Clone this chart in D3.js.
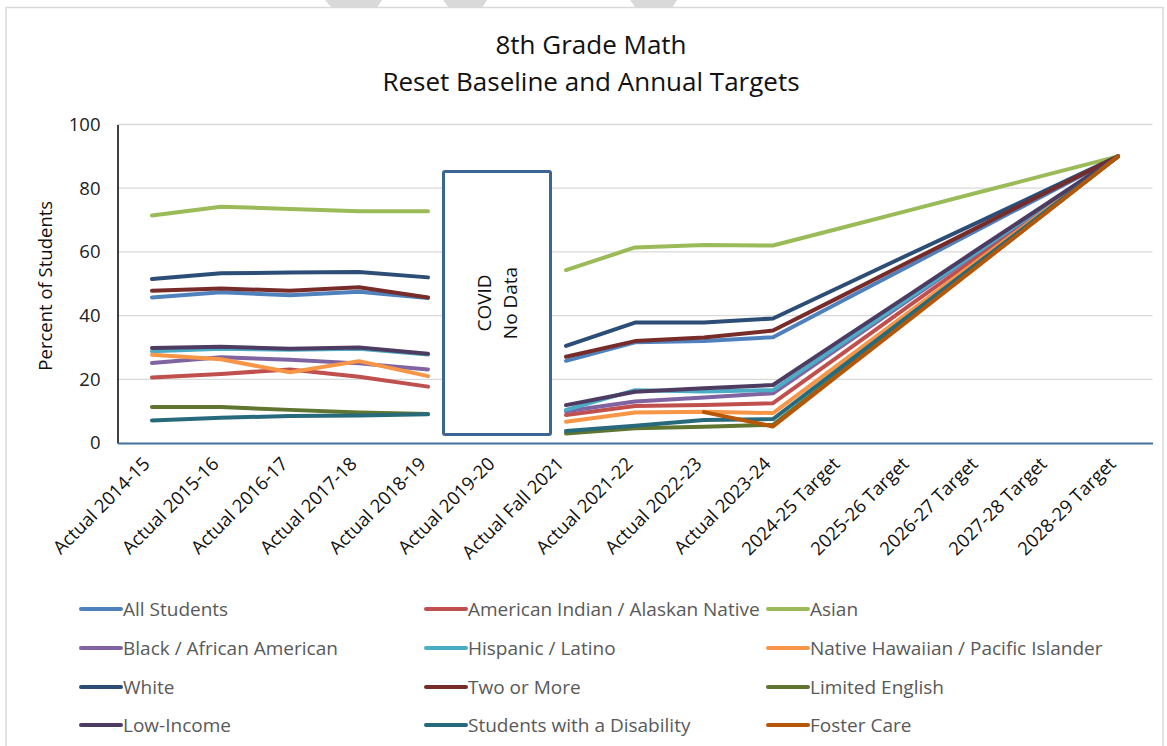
<!DOCTYPE html>
<html>
<head>
<meta charset="utf-8">
<script src="https://cdn.jsdelivr.net/npm/d3@7"></script>
<style>
  html, body { margin: 0; padding: 0; background: #fff; }
  svg { display: block; font-family: "Open Sans", "Noto Sans", sans-serif; }
</style>
</head>
<body>
<svg id="chart" width="1167" height="746"></svg>
<script>
// ---------- data ----------
const categories = ["Actual 2014-15","Actual 2015-16","Actual 2016-17","Actual 2017-18","Actual 2018-19","Actual 2019-20","Actual Fall 2021","Actual 2021-22","Actual 2022-23","Actual 2023-24","2024-25 Target","2025-26 Target","2026-27 Target","2027-28 Target","2028-29 Target"];
const yTicks = [0, 20, 40, 60, 80, 100];

const seriesNames = ["All Students","American Indian / Alaskan Native","Asian","Black / African American","Hispanic / Latino","Native Hawaiian / Pacific Islander","White","Two or More","Limited English","Low-Income","Students with a Disability","Foster Care"];
const seriesColors = ["#4F81BD","#C0504D","#9BBB59","#8064A2","#4BACC6","#F79646","#2C4D75","#772C2A","#5F7530","#4D3B62","#276A7C","#B65708"];

const allStudents     = [45.7, 47.3, 46.4, 47.5, 45.5, null, 25.8, 31.6, 32.0, 33.2, 44.6, 55.9, 67.3, 78.6, 90];
const americanIndian  = [20.6, 21.7, 23.1, 20.8, 17.7, null, 8.8, 11.6, 11.9, 12.5, 28.0, 43.5, 59.0, 74.5, 90];
const asian           = [71.4, 74.2, 73.5, 72.8, 72.8, null, 54.3, 61.4, 62.2, 62.0, 67.6, 73.2, 78.8, 84.4, 90];
const black           = [25.1, 26.9, 26.1, 25.0, 23.1, null, 10.0, 13.0, 14.3, 15.6, 30.5, 45.4, 60.3, 75.1, 90];
const hispanic        = [28.8, 29.6, 29.3, 29.6, 27.8, null, 10.4, 16.6, 16.2, 16.6, 31.3, 45.9, 60.6, 75.3, 90];
const nativeHawaiian  = [27.7, 26.3, 22.2, 25.7, 21.0, null, 6.7, 9.6, 9.8, 9.4, 25.5, 41.6, 57.8, 73.9, 90];
const white           = [51.5, 53.3, 53.5, 53.7, 52.0, null, 30.5, 37.8, 37.8, 39.1, 49.3, 59.5, 69.6, 79.8, 90];
const twoOrMore       = [47.8, 48.5, 47.8, 48.9, 45.7, null, 27.1, 32.0, 33.1, 35.3, 46.2, 57.2, 68.1, 79.1, 90];
const limitedEnglish  = [11.3, 11.3, 10.4, 9.6, 9.1, null, 3.0, 4.6, 5.1, 5.7, 22.6, 39.4, 56.3, 73.1, 90];
const lowIncome       = [29.8, 30.2, 29.6, 30.0, 28.0, null, 11.9, 16.1, 17.2, 18.2, 32.6, 46.9, 61.3, 75.6, 90];
const disability      = [7.1, 7.9, 8.5, 8.6, 9.0, null, 3.8, 5.4, 7.2, 7.5, 24.0, 40.5, 57.0, 73.5, 90];
const fosterCare      = [null, null, null, null, null, null, null, null, 9.7, 5.2, 22.2, 39.1, 56.1, 73.0, 90];

const seriesValues = [allStudents, americanIndian, asian, black, hispanic, nativeHawaiian, white, twoOrMore, limitedEnglish, lowIncome, disability, fosterCare];

const titleLines = ["8th Grade Math", "Reset Baseline and Annual Targets"];
const yAxisTitle = "Percent of Students";
const covidLines = ["COVID", "No Data"];
const covidCategory = "Actual 2019-20";

// ---------- drawing ----------
const svg = d3.select("#chart");

// watermark fragments and chart frame
const wm = [[325,382,332,377],[443,487,449,482],[630,677,636,672]];
svg.selectAll("path.wm").data(wm).join("path")
  .attr("d", d => `M${d[0]},0 L${d[1]},0 L${d[3]},8 L${d[2]},8 Z`)
  .attr("fill", "#d9d9d9");
svg.append("rect").attr("x", 6).attr("y", 7.5).attr("width", 1157).attr("height", 745)
  .attr("fill", "none").attr("stroke", "#d9d9d9").attr("stroke-width", 1.5);

const plot = { left: 117.5, right: 1152.5, top: 124.5, bottom: 443 };

const x = d3.scalePoint().domain(categories).range([plot.left, plot.right]).padding(0.5);
const y = d3.scaleLinear().domain([0, 100]).range([plot.bottom, plot.top]);

// gridlines
svg.append("g").selectAll("line").data(yTicks.filter(t => t > 0)).join("line")
  .attr("x1", plot.left).attr("x2", plot.right)
  .attr("y1", d => y(d)).attr("y2", d => y(d))
  .attr("stroke", "#d9d9d9").attr("stroke-width", 1.3);

// y axis
const yAxis = d3.axisLeft(y).tickValues(yTicks).tickSize(0).tickPadding(17);
const gy = svg.append("g").attr("transform", `translate(${plot.left},0)`).call(yAxis);
gy.select(".domain").attr("stroke", "#000").attr("stroke-width", 1.5);
gy.selectAll("text").attr("font-size", 18.5).attr("fill", "#222")
  .attr("font-family", "'Open Sans', sans-serif");

// x axis baseline
const xAxis = d3.axisBottom(x).tickSize(0).tickFormat("");
const gx = svg.append("g").attr("transform", `translate(0,${plot.bottom})`).call(xAxis);
gx.select(".domain").attr("stroke", "#41719C").attr("stroke-width", 2);

// x labels rotated
svg.append("g").selectAll("text").data(categories).join("text")
  .attr("transform", d => `translate(${x(d) - 1},${plot.bottom + 22}) rotate(-45)`)
  .attr("text-anchor", "end")
  .attr("font-size", 18.5)
  .attr("fill", "#111")
  .text(d => d);

// y axis title
svg.append("text")
  .attr("transform", `translate(52,${(plot.top + plot.bottom) / 2 + 2}) rotate(-90)`)
  .attr("text-anchor", "middle")
  .attr("font-size", 18.5)
  .attr("fill", "#111")
  .text(yAxisTitle);

// title
svg.append("g").selectAll("text").data(titleLines).join("text")
  .attr("x", 591).attr("y", (d, i) => 54 + i * 37)
  .attr("text-anchor", "middle")
  .attr("font-size", 26)
  .attr("fill", "#111")
  .text(d => d);

// lines
const line = d3.line()
  .defined(d => d.v !== null)
  .x(d => x(d.c))
  .y(d => y(d.v));

svg.append("g").selectAll("path").data(seriesValues.map((vals, i) => ({ i, pts: vals.map((v, j) => ({ c: categories[j], v })) })))
  .join("path")
  .attr("d", d => line(d.pts))
  .attr("fill", "none")
  .attr("stroke", d => seriesColors[d.i])
  .attr("stroke-width", 4)
  .attr("stroke-linecap", "round")
  .attr("stroke-linejoin", "round");

// COVID box
const cx = x(covidCategory);
svg.append("rect")
  .attr("x", cx - 53.5).attr("y", 171.5).attr("width", 107).attr("height", 263)
  .attr("rx", 1.5)
  .attr("fill", "#fff").attr("stroke", "#3E6494").attr("stroke-width", 3);
svg.append("g").attr("transform", `translate(${cx},303) rotate(-90)`)
  .selectAll("text").data(covidLines).join("text")
  .attr("x", 0).attr("y", (d, i) => -6 + i * 26)
  .attr("text-anchor", "middle")
  .attr("font-size", 19)
  .attr("fill", "#111")
  .text(d => d);

// legend
const legendCols = [80, 425, 767];
const legendRows = [609, 648, 687, 725];
const lg = svg.append("g").selectAll("g").data(seriesNames).join("g")
  .attr("transform", (d, i) => `translate(${legendCols[i % 3]},${legendRows[Math.floor(i / 3)]})`);
lg.append("line").attr("x1", 1).attr("x2", 41).attr("y1", 0).attr("y2", 0)
  .attr("stroke", (d, i) => seriesColors[i]).attr("stroke-width", 4).attr("stroke-linecap", "round");
lg.append("text").attr("x", 43).attr("y", 6.5)
  .attr("font-size", 19).attr("fill", "#595959")
  .text(d => d);
</script>
</body>
</html>
